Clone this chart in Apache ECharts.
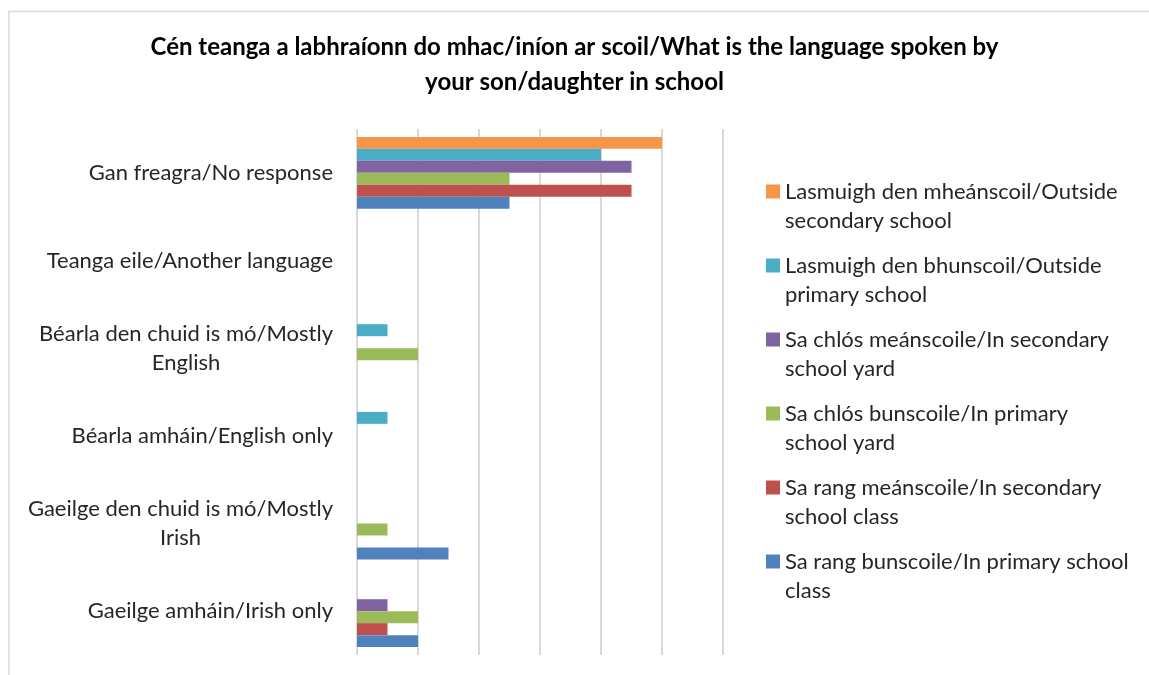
<!DOCTYPE html>
<html>
<head>
<meta charset="utf-8">
<style>
  html, body { margin: 0; padding: 0; background: #ffffff; }
  #chart { width: 1149px; height: 675px; }
</style>
<script src="https://cdn.jsdelivr.net/npm/echarts@6/dist/echarts.min.js"></script>
</head>
<body>
<div id="chart"></div>
<script>
// Response categories, listed bottom to top as on the category axis
const categories = [
  'Gaeilge amháin/Irish only',
  'Gaeilge den chuid is mó/Mostly Irish',
  'Béarla amháin/English only',
  'Béarla den chuid is mó/Mostly English',
  'Teanga eile/Another language',
  'Gan freagra/No response'
];

// Axis labels with their line breaks
const categoryLabels = [
  ['Gaeilge amháin/Irish only'],
  ['Gaeilge den chuid is mó/Mostly', 'Irish'],
  ['Béarla amháin/English only'],
  ['Béarla den chuid is mó/Mostly', 'English'],
  ['Teanga eile/Another language'],
  ['Gan freagra/No response']
];

// Setting names (legend lines)
const seriesNames = [
  ['Lasmuigh den mheánscoil/Outside', 'secondary school'],
  ['Lasmuigh den bhunscoil/Outside', 'primary school'],
  ['Sa chlós meánscoile/In secondary', 'school yard'],
  ['Sa chlós bunscoile/In primary', 'school yard'],
  ['Sa rang meánscoile/In secondary', 'school class'],
  ['Sa rang bunscoile/In primary school', 'class']
];

// Counts per setting, in category order
const outsideSecondary = [0, 0, 0, 0, 0, 10];
const outsidePrimary   = [0, 0, 1, 1, 0, 8];
const yardSecondary    = [1, 0, 0, 0, 0, 9];
const yardPrimary      = [2, 1, 0, 2, 0, 5];
const classSecondary   = [1, 0, 0, 0, 0, 9];
const classPrimary     = [2, 3, 0, 0, 0, 5];

const seriesValues = [outsideSecondary, outsidePrimary, yardSecondary, yardPrimary, classSecondary, classPrimary];
const seriesColors = ['#F79646', '#4BACC6', '#8064A2', '#9BBB59', '#C0504D', '#4F81BD'];

const font = 'Lato, "Open Sans", sans-serif';
const names = seriesNames.map(l => l.join('\n'));

const chart = echarts.init(document.getElementById('chart'), null, { renderer: 'canvas' });

chart.setOption({
  animation: false,
  backgroundColor: '#ffffff',
  title: {
    text: 'Cén teanga a labhraíonn do mhac/iníon ar scoil/What is the language spoken by\nyour son/daughter in school',
    left: 'center',
    top: 30,
    padding: 0,
    textStyle: {
      fontFamily: font,
      fontWeight: 'bold',
      fontSize: 24,
      lineHeight: 35,
      color: '#000000',
      align: 'center'
    }
  },
  legend: {
    orient: 'vertical',
    left: 766,
    top: 148,
    padding: 0,
    itemWidth: 14,
    itemHeight: 14,
    itemGap: -13,
    icon: 'rect',
    data: names,
    // a leading empty line keeps each swatch level with the first text line
    formatter: name => ' \n' + name,
    textStyle: {
      fontFamily: font,
      fontSize: 22,
      lineHeight: 29,
      color: '#262626'
    }
  },
  grid: {
    left: 357,
    right: 426,
    top: 129,
    bottom: 20,
    containLabel: false
  },
  xAxis: {
    type: 'value',
    min: 0,
    max: 12,
    interval: 2,
    axisLabel: { show: false },
    axisLine: { show: false },
    axisTick: { show: false },
    splitLine: { show: true, lineStyle: { color: '#d9d9d9', width: 2 } }
  },
  yAxis: {
    type: 'category',
    data: categories,
    axisLine: { show: false },
    axisTick: { show: false },
    axisLabel: {
      margin: 24,
      formatter: function (value, idx) {
        return categoryLabels[idx].map(s => '{c|' + s + '}').join('\n');
      },
      rich: {
        c: {
          fontFamily: font,
          fontSize: 22,
          lineHeight: 29,
          color: '#262626',
          align: 'center'
        }
      }
    }
  },
  series: seriesValues.map((vals, i) => ({
    name: names[i],
    type: 'bar',
    data: vals,
    barGap: '0%',
    barCategoryGap: '18%',
    itemStyle: { color: seriesColors[i] }
  })),
  graphic: [
    {
      type: 'polyline',
      silent: true,
      shape: { points: [[9, 675], [9, 11.5], [1149, 11.5]] },
      style: { stroke: '#d9d9d9', lineWidth: 1.5, fill: null }
    }
  ]
});
</script>
</body>
</html>
